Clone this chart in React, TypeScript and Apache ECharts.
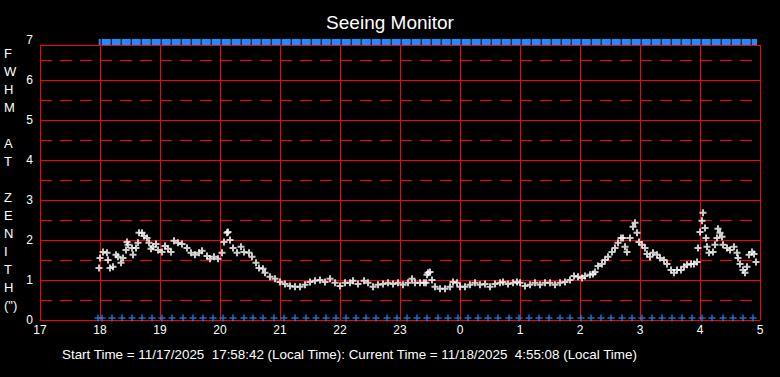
import React, { useEffect, useRef } from "react";
import * as echarts from "echarts";

// Minutes after 17:00 local time (x axis runs 17:00 -> 05:00 next day)
const seeingMinutes = [
  59, 60, 63, 67, 68, 70, 73, 76, 78, 81, 83, 86, 87, 88, 92, 93, 96, 98, 99, 102,
  104, 107, 109, 111, 113, 116, 118, 122, 125, 128, 131, 134, 138, 142, 147, 151, 155, 159, 162, 167,
  170, 174, 178, 182, 184, 187, 188, 190, 193, 197, 201, 204, 209, 212, 216, 219, 223,
  225, 230, 235, 240, 245, 250, 255, 260, 265, 270, 275, 280, 285, 290, 295, 300, 305, 310,
  313, 318, 324, 328, 333, 338, 343, 348, 353, 358, 363, 368, 372, 375, 380, 384, 386, 387, 388,
  390, 392, 395, 400, 405, 410, 413, 417, 420, 425, 430, 435, 440, 445, 450, 455, 460, 463, 468,
  473, 477, 480, 485, 490, 495, 500, 505, 510, 515, 520, 525, 530, 534, 538, 542, 545, 550, 553,
  555, 558, 562, 565, 568, 572, 575, 578, 581, 583, 585, 587, 590, 593, 595, 597, 599, 602, 605,
  607, 610, 613, 617, 620, 624, 627, 631, 634, 637, 641, 644, 647, 651, 654, 657, 658, 660, 662,
  663, 665, 666, 667, 669, 673, 675, 677, 678, 680, 682, 683, 687, 690, 694, 697, 698, 700, 703,
  705, 707, 709, 712, 714, 716,
];

// FWHM at zenith (arcsec)
const seeingFwhm = [
  1.3, 1.55, 1.7, 1.68, 1.5, 1.3, 1.33, 1.63, 1.58, 1.43, 1.55, 1.75, 1.95, 1.88, 1.8, 1.63, 1.8, 1.93, 2.18, 2.18,
  2.1, 2.05, 1.93, 1.78, 1.83, 1.9, 1.75, 1.7, 1.85, 1.78, 1.7, 1.98, 1.93, 1.9, 1.8, 1.68, 1.63, 1.68, 1.73, 1.6,
  1.53, 1.58, 1.53, 1.68, 1.95, 2.18, 2.2, 2.0, 1.8, 1.68, 1.83, 1.7, 1.68, 1.58, 1.43, 1.3, 1.28,
  1.18, 1.08, 1.03, 0.95, 0.9, 0.85, 0.83, 0.83, 0.88, 0.95, 0.98, 1.0, 0.95, 1.03, 0.93, 0.85, 0.93, 0.93,
  0.98, 0.9, 0.98, 0.93, 0.83, 0.88, 0.9, 0.93, 0.9, 0.93, 0.88, 0.93, 1.03, 0.93, 0.93, 0.93, 0.93, 1.13, 1.18,
  1.2, 1.0, 0.83, 0.78, 0.78, 0.83, 0.95, 0.93, 0.83, 0.83, 0.88, 0.93, 0.88, 0.9, 0.83, 0.9, 0.93, 0.95, 0.9,
  0.93, 0.95, 0.93, 0.85, 0.88, 0.93, 0.88, 0.93, 0.93, 0.88, 0.93, 0.95, 1.0, 1.1, 1.08, 1.05, 1.1, 1.13, 1.15,
  1.2, 1.35, 1.4, 1.5, 1.58, 1.7, 1.8, 1.93, 2.05, 2.05, 1.83, 1.7, 2.05, 2.33, 2.43, 2.18, 1.95, 1.88, 1.8,
  1.65, 1.58, 1.68, 1.63, 1.55, 1.5, 1.4, 1.25, 1.18, 1.25, 1.25, 1.33, 1.38, 1.4, 1.4, 1.45, 1.8, 2.2, 2.48,
  2.68, 2.3, 2.05, 1.83, 1.68, 1.7, 1.88, 2.05, 2.28, 2.18, 2.08, 1.88, 1.8, 1.75, 1.83, 1.68, 1.55, 1.4, 1.25,
  1.18, 1.33, 1.63, 1.7, 1.65, 1.45,
];

// Blue status marks along the bottom (minutes after 17:00)
const statusMinutes = [
  58, 62, 72, 82, 92, 102, 112, 122, 132, 143, 153, 163, 173, 183, 193, 204, 213, 223, 234, 244,
  255, 266, 276, 286, 296, 306, 316, 326, 336, 347, 357, 367, 377, 387, 398, 408, 418, 428, 438, 448,
  458, 469, 479, 489, 499, 509, 520, 530, 541, 551, 561, 571, 582, 592, 602, 612, 622, 632, 642, 652,
  662, 672, 683, 693, 703, 713,
];
const statusLevel = 0.05;

// Blue band along the top (start / end minutes)
const topBandMinutes = [58.7, 717];
const topBandLevel = 6.95;

const yTicks = [0, 1, 2, 3, 4, 5, 6, 7];
const hourLabels = [17, 18, 19, 20, 21, 22, 23, 0, 1, 2, 3, 4, 5];

const yTitleLines = ["F", "W", "H", "M", "", "A", "T", "", "Z", "E", "N", "I", "T", "H", "(\")"];
const footerText =
  "Start Time = 11/17/2025  17:58:42 (Local Time): Current Time = 11/18/2025  4:55:08 (Local Time)";

const PLUS = "path://M2.5,0H4.5V2.5H7V4.5H4.5V7H2.5V4.5H0V2.5H2.5Z";
const PLUS_THIN = "path://M2.75,0H4.25V2.75H7V4.25H4.25V7H2.75V4.25H0V2.75H2.75Z";
const FONT = "'Liberation Sans', Arial, sans-serif";

export default function App() {
  const ref = useRef<HTMLDivElement>(null);
  useEffect(() => {
    if (!ref.current) return;
    const chart = echarts.init(ref.current, null, { renderer: "svg" });
    const option: any = {
      animation: false,
      backgroundColor: "#000",
      title: {
        text: "Seeing Monitor",
        left: "center",
        top: 8,
        textStyle: { color: "#fff", fontSize: 19, fontWeight: "normal", fontFamily: FONT },
      },
      grid: { left: 40, right: 20, top: 40, bottom: 57, containLabel: false },
      xAxis: {
        type: "value",
        min: 0,
        max: 720,
        interval: 60,
        axisLine: { show: true, lineStyle: { color: "#ff0000", width: 1 } },
        axisTick: { show: false },
        axisLabel: {
          color: "#fff",
          fontSize: 12,
          fontFamily: FONT,
          margin: 4,
          formatter: (v: number) => String(hourLabels[Math.round(v / 60)]),
        },
        splitLine: { show: true, lineStyle: { color: "#ff0000", width: 1 } },
      },
      yAxis: {
        type: "value",
        min: yTicks[0],
        max: yTicks[yTicks.length - 1],
        interval: 1,
        axisLine: { show: false },
        axisTick: { show: false },
        axisLabel: { color: "#fff", fontSize: 12, fontFamily: FONT, margin: 7 },
        splitLine: { show: true, showMaxLine: false, lineStyle: { color: "#ff0000", width: 1 } },
        minorTick: { show: false, splitNumber: 2 },
        minorSplitLine: { show: true, lineStyle: { color: "#ff0000", width: 1, type: [12, 8] } },
      },
      graphic: [
        {
          type: "rect",
          z: 1,
          silent: true,
          shape: { x: 39, y: 34, width: 723, height: 11 },
          style: { fill: "#000" },
        },
        {
          type: "line",
          z: 1,
          silent: true,
          shape: { x1: 40, y1: 45.5, x2: 760.5, y2: 45.5 },
          style: { stroke: "#ff0000", lineWidth: 1 },
        },
        {
          type: "text",
          left: 4,
          top: 44,
          style: {
            text: yTitleLines.join("\n"),
            fill: "#fff",
            fontSize: 13,
            fontFamily: FONT,
            lineHeight: 18,
            align: "center",
            width: 14,
          },
        },
        {
          type: "text",
          left: 62,
          top: 348,
          style: { text: footerText, fill: "#fff", fontSize: 13.4, fontFamily: FONT },
        },
      ],
      series: [
        {
          type: "line",
          data: topBandMinutes.map((m) => [m, topBandLevel]),
          symbol: "none",
          z: 2,
          lineStyle: { color: "#1e8cff", width: 6, type: [9, 1], dashOffset: 6.7 },
        },
        {
          type: "scatter",
          data: statusMinutes.map((m) => [m, statusLevel]),
          symbol: PLUS_THIN,
          symbolSize: 7,
          itemStyle: { color: "#1e8cff" },
          z: 3,
        },
        {
          type: "scatter",
          data: seeingMinutes.map((m, i) => [m, seeingFwhm[i]]),
          symbol: PLUS,
          symbolSize: 7,
          itemStyle: { color: "#fff" },
          z: 4,
        },
      ],
    };
    chart.setOption(option);
    return () => chart.dispose();
  }, []);
  return (
    <div
      ref={ref}
      style={{ position: "fixed", left: 0, top: 0, width: 780, height: 377, background: "#000" }}
    />
  );
}
